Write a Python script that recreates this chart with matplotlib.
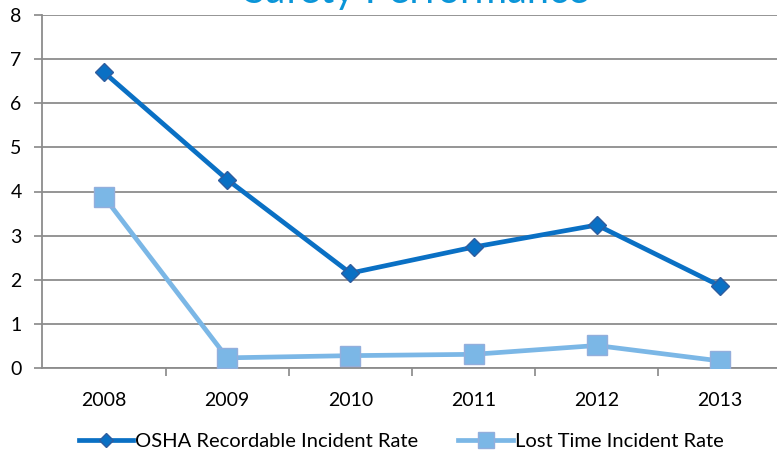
import matplotlib
matplotlib.use("Agg")
import matplotlib.pyplot as plt

years = ["2008", "2009", "2010", "2011", "2012", "2013"]
osha = [6.70, 4.27, 2.15, 2.74, 3.24, 1.86]
lost_time = [3.88, 0.23, 0.28, 0.31, 0.51, 0.16]
y_ticks = [0, 1, 2, 3, 4, 5, 6, 7, 8]

plt.rcParams['font.family'] = ['Lato', 'DejaVu Sans']

fig = plt.figure(figsize=(7.77, 4.58), dpi=100)
W, H = 777, 458
left, right, top, bottom = 42.4, 781.6, 15, 368
ax = fig.add_axes([left / W, 1 - bottom / H, (right - left) / W, (bottom - top) / H])

x = list(range(len(years)))
ax.plot(x, osha, color="#0A70C4", lw=3.4, marker="D", ms=9,
        mfc="#0A70C4", mec="#2F5D9E", mew=1.0, label="OSHA Recordable Incident Rate", zorder=3)
ax.plot(x, lost_time, color="#7BB7E6", lw=3.4, marker="s", ms=15,
        mfc="#7BB7E6", mec="#93AEDC", mew=1.0, label="Lost Time Incident Rate", zorder=3)

ax.set_xlim(-0.5, len(years) - 0.5)
ax.set_ylim(0, 8)
ax.set_yticks(y_ticks)
ax.set_yticklabels([str(v) for v in y_ticks], fontsize=14)
ax.set_xticks(x)
ax.set_xticklabels(years, fontsize=14)
ax.tick_params(axis='x', length=0, pad=17)
ax.set_xticks([i + 0.5 for i in range(len(years) - 1)], minor=True)
ax.tick_params(axis='x', which='minor', length=6, color="#888888", width=1.2)
ax.tick_params(axis='y', length=6, color="#888888", width=1.2, pad=9)

ax.grid(axis='y', color="#8C8C8C", lw=1.3)
ax.set_axisbelow(True)
for s in ['top', 'right']:
    ax.spines[s].set_visible(False)
for s in ['left', 'bottom']:
    ax.spines[s].set_color("#8C8C8C")
    ax.spines[s].set_linewidth(1.3)

fig.text(416 / W, 1 - 3 / H, "Safety Performance", color="#0A95D8", fontsize=28.5,
         ha='center', va='baseline')

leg = fig.legend(loc='center', bbox_to_anchor=(401 / W, 1 - 441 / H), ncol=2, frameon=False,
                 fontsize=14.5, handlelength=2.7, handletextpad=0.1, columnspacing=2.0,
                 borderaxespad=0, markerscale=0.8)

fig.savefig("out.png", dpi=100)
